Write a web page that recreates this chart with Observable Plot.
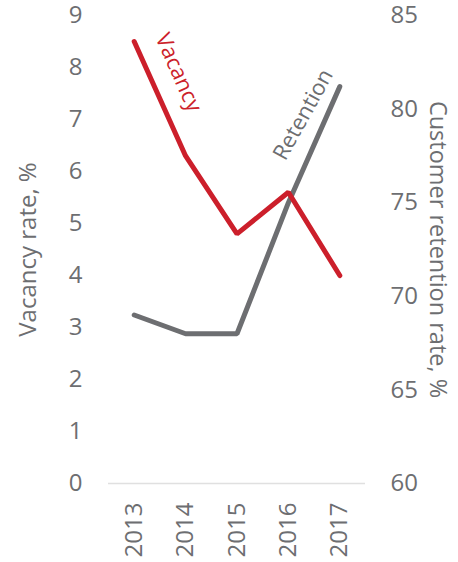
<!DOCTYPE html>
<html>
<head>
<meta charset="utf-8">
<script src="https://cdn.jsdelivr.net/npm/d3@7"></script>
<script src="https://cdn.jsdelivr.net/npm/@observablehq/plot@0.6"></script>
<style>
  html, body { margin: 0; padding: 0; background: #ffffff; }
  #chart svg { display: block; }
</style>
</head>
<body>
<div id="chart"></div>
<script>
const years = [2013, 2014, 2015, 2016, 2017];
const vacancy = [8.5, 6.3, 4.8, 5.6, 4.0];
const retention = [69.0, 68.0, 68.0, 75.0, 81.2];
const vacancyTicks = [0, 1, 2, 3, 4, 5, 6, 7, 8, 9];
const retentionTicks = [60, 65, 70, 75, 80, 85];
const seriesLabels = [
  {text: "Vacancy", year: 2013.86, value: 7.9, series: "vacancy", angle: 66},
  {text: "Retention", year: 2016.29, value: 79.7, series: "retention", angle: -61}
];

const gray = "#6d6e71";
const red = "#cc1f2b";
const font = "Open Sans, sans-serif";

// map retention (60–85) onto the vacancy scale (0–9)
const rMin = 60, rMax = 85, vMax = 9;
const toLeft = r => (r - rMin) * vMax / (rMax - rMin);
const toRight = v => rMin + v * (rMax - rMin) / vMax;

const vacData = years.map((y, i) => ({year: y, value: vacancy[i]}));
const retData = years.map((y, i) => ({year: y, value: toLeft(retention[i])}));
const labData = seriesLabels.map(d => ({...d, y: d.series === "retention" ? toLeft(d.value) : d.value}));

const chart = Plot.plot({
  width: 458,
  height: 562,
  marginLeft: 108,
  marginRight: 93,
  marginTop: 15,
  marginBottom: 79,
  style: {fontFamily: font, color: gray, background: "#ffffff", overflow: "visible"},
  x: {domain: [2012.5, 2017.5]},
  y: {domain: [0, vMax]},
  marks: [
    Plot.ruleY([0], {stroke: "#e0e0e0", strokeWidth: 1.5}),
    Plot.axisY(vacancyTicks, {anchor: "left", tickSize: 0, tickPadding: 26, fontSize: 24, fill: gray, label: null, tickFormat: d => String(Math.round(d))}),
    Plot.axisY(retentionTicks.map(toLeft), {anchor: "right", tickSize: 0, tickPadding: 25, fontSize: 24, fill: gray, label: null, tickFormat: d => String(Math.round(toRight(d)))}),
    Plot.axisX(years, {anchor: "bottom", tickSize: 0, tickPadding: 19, tickRotate: -90, fontSize: 24, fill: gray, label: null, tickFormat: d => String(d)}),
    Plot.text(["Vacancy rate, %"], {frameAnchor: "left", textAnchor: "middle", rotate: -90, dx: -80, fontSize: 24, fill: gray}),
    Plot.text(["Customer retention rate, %"], {frameAnchor: "right", textAnchor: "middle", rotate: 90, dx: 72, fontSize: 23.5, fill: gray}),
    Plot.line(retData, {x: "year", y: "value", stroke: gray, strokeWidth: 5, strokeLinejoin: "miter", strokeLinecap: "round"}),
    Plot.line(vacData, {x: "year", y: "value", stroke: red, strokeWidth: 5, strokeLinejoin: "miter", strokeLinecap: "round"}),
    Plot.text(labData, {x: "year", y: "y", text: "text", rotate: "angle", fontSize: 22,
      fill: d => d.series === "vacancy" ? red : gray})
  ]
});
document.getElementById("chart").appendChild(chart);
</script>
</body>
</html>
